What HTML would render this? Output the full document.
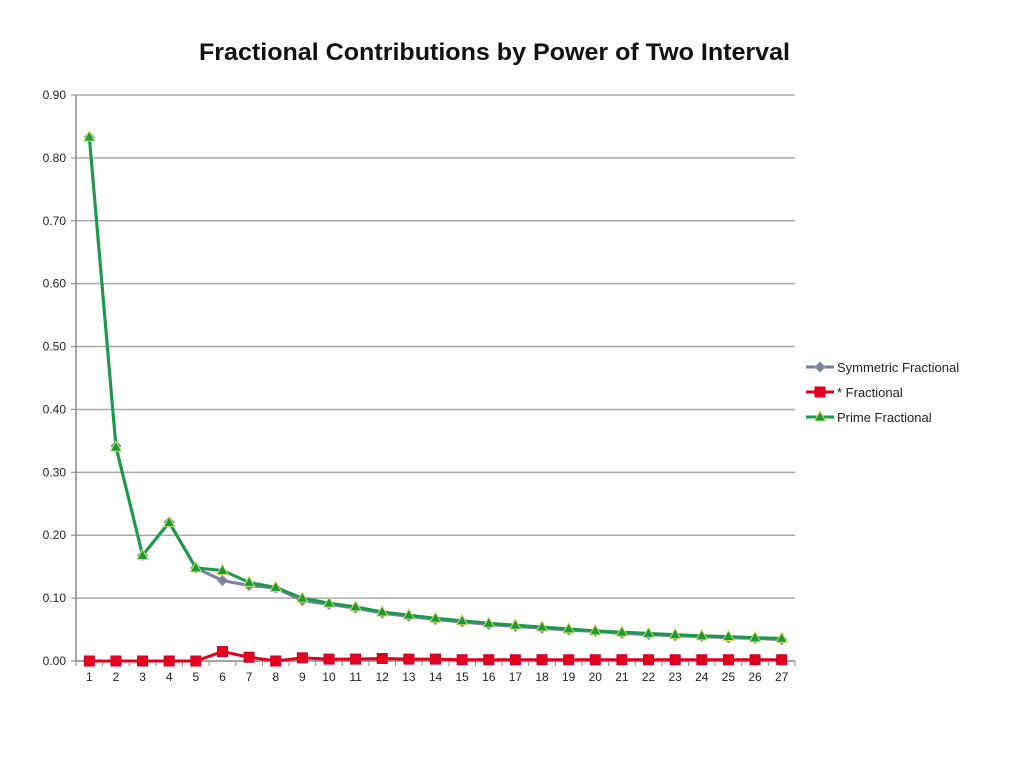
<!DOCTYPE html>
<html><head><meta charset="utf-8"><style>
body{margin:0;background:#fff;font-family:"Liberation Sans",sans-serif}
</style></head><body>
<svg id="c" width="1024" height="768" xmlns="http://www.w3.org/2000/svg" font-family="Liberation Sans, sans-serif"></svg>
<script>
const categories=[1,2,3,4,5,6,7,8,9,10,11,12,13,14,15,16,17,18,19,20,21,22,23,24,25,26,27];
const symmetric=[0.833,0.342,0.168,0.221,0.148,0.128,0.120,0.116,0.096,0.090,0.084,0.076,0.071,0.066,0.062,0.058,0.055,0.052,0.049,0.047,0.044,0.042,0.040,0.039,0.037,0.036,0.034];
const star=[0,0,0,0,0,0.015,0.006,0,0.005,0.003,0.003,0.004,0.003,0.003,0.002,0.002,0.002,0.002,0.002,0.002,0.002,0.002,0.002,0.002,0.002,0.002,0.002];
const prime=[0.833,0.340,0.168,0.220,0.148,0.144,0.125,0.117,0.100,0.092,0.086,0.078,0.073,0.068,0.064,0.060,0.057,0.054,0.051,0.048,0.046,0.044,0.042,0.040,0.039,0.037,0.036];
const yTicks=["0.00","0.10","0.20","0.30","0.40","0.50","0.60","0.70","0.80","0.90"];
const L=76,R=795,T=95,B=661,ymax=0.9;
const svg=document.getElementById('c');const NS="http://www.w3.org/2000/svg";
function mk(t,a,p){const e=document.createElementNS(NS,t);for(const k in a)e.setAttribute(k,a[k]);(p||svg).appendChild(e);return e;}
const bw=(R-L)/categories.length;
const x=i=>L+bw*(i+0.5);
const y=v=>B-(v/ymax)*(B-T);
let t=mk('text',{x:199,y:60,'font-size':24,'font-weight':'bold',fill:'#111',textLength:591,lengthAdjust:'spacingAndGlyphs'});t.textContent="Fractional Contributions by Power of Two Interval";

yTicks.forEach((s,i)=>{const v=i*0.1;const yy=y(v);
 const g=mk('line',{x1:L,x2:R,y1:yy,y2:yy,stroke:i==0?'#888':'#aaa','stroke-width':1.5});
 
 mk('line',{x1:L-5,x2:L,y1:yy,y2:yy,stroke:'#888'});
 const tx=mk('text',{x:L-10,y:yy+4,'text-anchor':'end','font-size':12,fill:'#222'});tx.textContent=s;
 });
mk('line',{x1:L,x2:L,y1:T,y2:B,stroke:'#888','stroke-width':1.5});
categories.forEach((c,i)=>{mk('line',{x1:L+bw*i,x2:L+bw*i,y1:B,y2:B+5,stroke:'#888'});
 const tx=mk('text',{x:x(i),y:B+20,'text-anchor':'middle','font-size':12,fill:'#222'});tx.textContent=c;
 });
mk('line',{x1:R,x2:R,y1:B,y2:B+5,stroke:'#888'});
function marker(type,cx,cy,g){
 if(type=='d')return mk('polygon',{points:`${cx},${cy-5} ${cx+5},${cy} ${cx},${cy+5} ${cx-5},${cy}`,fill:'#7a7fa6',stroke:'#999'},g);
 if(type=='s')return mk('rect',{x:cx-5,y:cy-5,width:10,height:10,fill:'#e4001b',stroke:'#c03'},g);
 return mk('polygon',{points:`${cx},${cy-6} ${cx+5.5},${cy+4} ${cx-5.5},${cy+4}`,fill:'#1a9a3a',stroke:'#cde060'},g);}
const series=[[symmetric,'#7a7fa6','d','series-symmetric'],[star,'#e4001b','s','series-star'],[prime,'#1a9a4a','t','series-prime']];
series.forEach(([d,col,m,n])=>{const g=mk('g',{});
 mk('polyline',{points:d.map((v,i)=>x(i)+','+y(v)).join(' '),fill:'none',stroke:col,'stroke-width':3},g);
 d.forEach((v,i)=>{const p=marker(m,x(i),y(v),g);});});
const leg=[['Symmetric Fractional','#7a7fa6','d'],['* Fractional','#e4001b','s'],['Prime Fractional','#1a9a4a','t']];
leg.forEach(([s,col,m],i)=>{const yy=367+i*25;const g=mk('g',{});
 mk('line',{x1:806,x2:834,y1:yy,y2:yy,stroke:col,'stroke-width':3},g);marker(m,820,yy,g);
 const tx=mk('text',{x:837,y:yy+5,'font-size':13,fill:'#222'},g);tx.textContent=s;});
</script>
</body></html>
